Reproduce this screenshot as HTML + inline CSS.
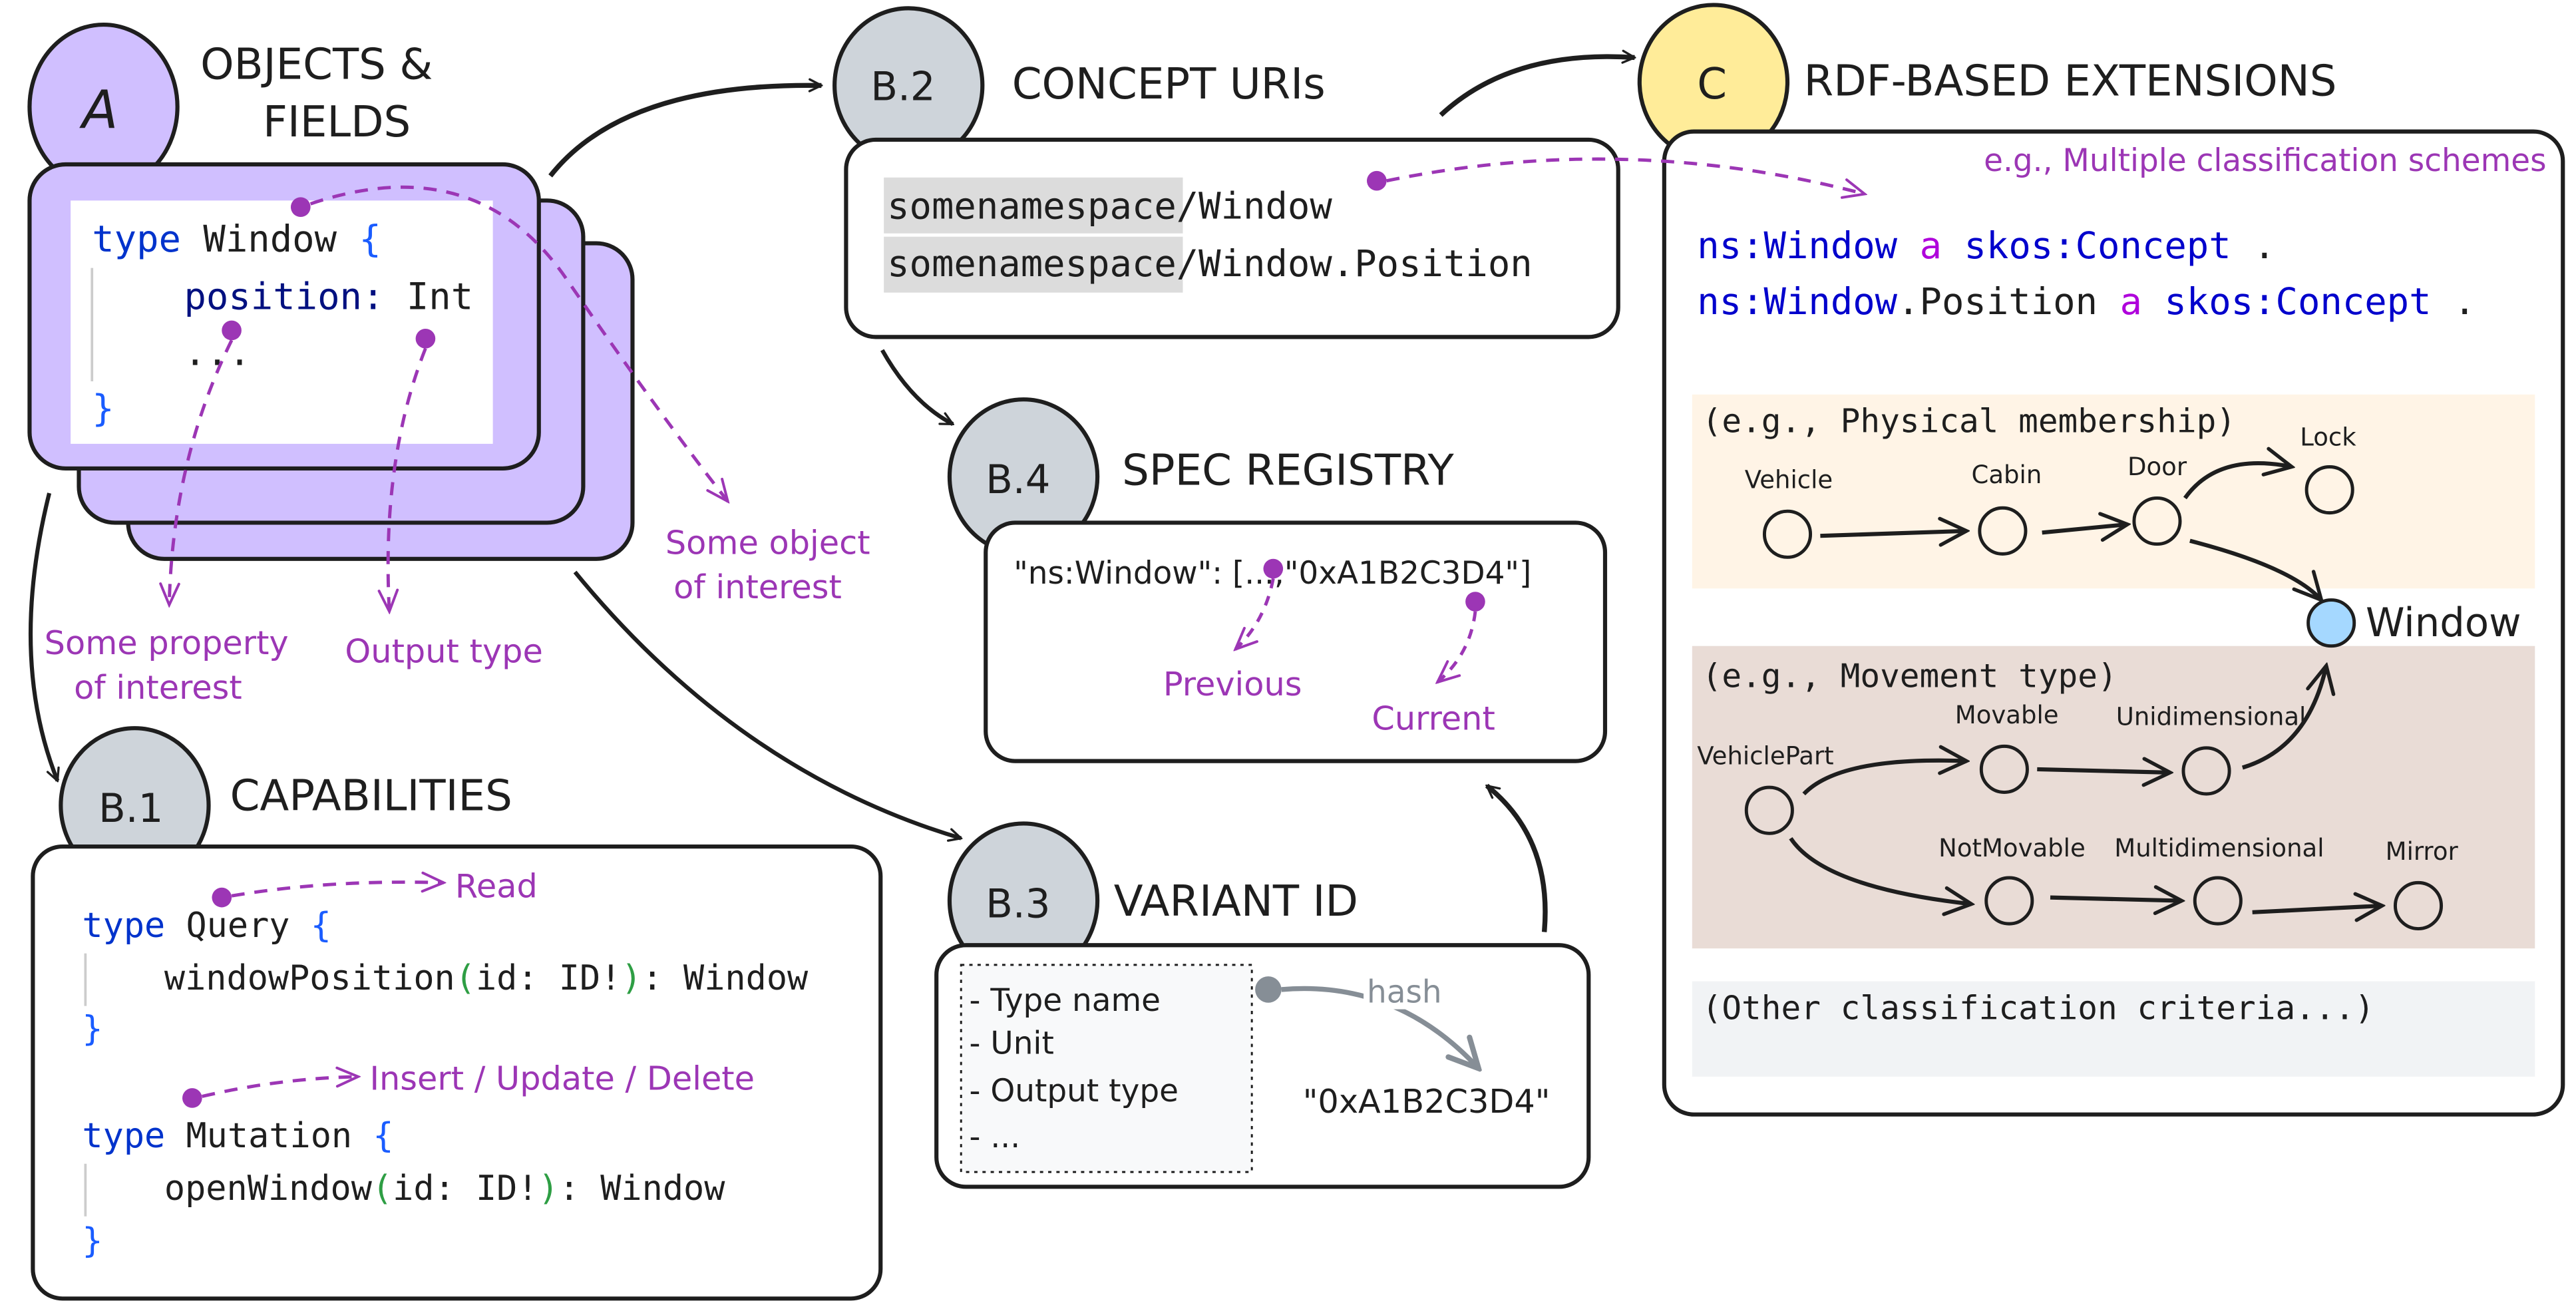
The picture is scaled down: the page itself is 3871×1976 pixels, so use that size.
<!DOCTYPE html>
<html><head><meta charset="utf-8"><style>
html,body{margin:0;padding:0;background:#fff;}
svg{display:block;}
.h{font-family:"DejaVu Sans","Liberation Sans",sans-serif;fill:#1e1e1e;}
.m{font-family:"DejaVu Sans Mono","Liberation Mono",monospace;fill:#1e1e1e;}
.p{font-family:"DejaVu Sans","Liberation Sans",sans-serif;fill:#9c36b5;}
.bl{fill:#1a5cff;}
</style></head><body>
<svg width="3871" height="1976" viewBox="0 0 1568 800" preserveAspectRatio="none" xmlns="http://www.w3.org/2000/svg">
<defs>
<marker id="ab" viewBox="0 0 20 20" refX="18" refY="10" markerWidth="9" markerHeight="9" orient="auto" markerUnits="userSpaceOnUse"><path d="M2 2 L18 10 L2 18" fill="none" stroke="#1e1e1e" stroke-width="3" stroke-linecap="round"/></marker>
<marker id="as" viewBox="0 0 20 20" refX="18" refY="10" markerWidth="20" markerHeight="20" orient="auto" markerUnits="userSpaceOnUse"><path d="M2 2 L18 10 L2 18" fill="none" stroke="#1e1e1e" stroke-width="2.2" stroke-linecap="round"/></marker>
<marker id="ap" viewBox="0 0 20 20" refX="18" refY="10" markerWidth="16" markerHeight="16" orient="auto" markerUnits="userSpaceOnUse"><path d="M2 3 L18 10 L2 17" fill="none" stroke="#9c36b5" stroke-width="2" stroke-linecap="round"/></marker>
<marker id="ag" viewBox="0 0 20 20" refX="18" refY="10" markerWidth="22" markerHeight="22" orient="auto" markerUnits="userSpaceOnUse"><path d="M2 2 L18 10 L2 18" fill="none" stroke="#868e96" stroke-width="3" stroke-linecap="round"/></marker>
</defs>

<!-- A -->
<ellipse cx="63" cy="65" rx="45" ry="50" fill="#d0bfff" stroke="#1e1e1e" stroke-width="2.5"/>
<text x="50" y="78" class="h" font-size="32" font-style="italic">A</text>
<text x="122" y="48" class="h" font-size="26">OBJECTS &amp;</text>
<text x="160" y="83" class="h" font-size="26">FIELDS</text>
<rect x="78" y="148" width="307" height="192" rx="22" fill="#d0bfff" stroke="#1e1e1e" stroke-width="2.5"/>
<rect x="48" y="122" width="307" height="196" rx="22" fill="#d0bfff" stroke="#1e1e1e" stroke-width="2.5"/>
<rect x="18" y="100" width="310" height="185" rx="22" fill="#d0bfff" stroke="#1e1e1e" stroke-width="2.5"/>
<rect x="43" y="122" width="257" height="148" fill="#fff"/>
<line x1="56" y1="163" x2="56" y2="232" stroke="#ccc" stroke-width="1.5"/>
<text x="56" y="153" class="m" font-size="22.5"><tspan style="fill:#0033cc">type</tspan> Window <tspan class="bl">{</tspan></text>
<text x="112" y="188" class="m" font-size="22.5"><tspan style="fill:#001080">position:</tspan> Int</text>
<text x="112" y="222" class="m" font-size="22.5">...</text>
<text x="56" y="256" class="m bl" font-size="22.5" style="fill:#1a5cff">}</text>
<circle cx="183" cy="126" r="6" fill="#9c36b5"/>
<circle cx="141" cy="201" r="6" fill="#9c36b5"/>
<circle cx="259" cy="206" r="6" fill="#9c36b5"/>
<path d="M189 124 Q290 90 345 170 T443 305" fill="none" stroke="#9c36b5" stroke-width="2" stroke-dasharray="8 6" marker-end="url(#ap)"/>
<path d="M141 207 Q105 280 103 368" fill="none" stroke="#9c36b5" stroke-width="2" stroke-dasharray="8 6" marker-end="url(#ap)"/>
<path d="M259 212 Q232 280 237 372" fill="none" stroke="#9c36b5" stroke-width="2" stroke-dasharray="8 6" marker-end="url(#ap)"/>
<text x="405" y="337" class="p" font-size="20">Some object</text>
<text x="410" y="364" class="p" font-size="20">of interest</text>
<text x="27" y="398" class="p" font-size="20">Some property</text>
<text x="45" y="425" class="p" font-size="20">of interest</text>
<text x="210" y="403" class="p" font-size="20">Output type</text>

<!-- black arrows -->
<path d="M335 107 Q380 50 500 52" fill="none" stroke="#1e1e1e" stroke-width="3" marker-end="url(#ab)"/>
<path d="M877 70 Q920 30 995 35" fill="none" stroke="#1e1e1e" stroke-width="3" marker-end="url(#ab)"/>
<path d="M30 300 Q5 400 35 475" fill="none" stroke="#1e1e1e" stroke-width="2.5" marker-end="url(#ab)"/>
<path d="M350 348 Q450 470 585 510" fill="none" stroke="#1e1e1e" stroke-width="2.5" marker-end="url(#ab)"/>
<path d="M537 213 Q555 245 580 258" fill="none" stroke="#1e1e1e" stroke-width="2.5" marker-end="url(#ab)"/>
<path d="M940 567 Q945 510 905 478" fill="none" stroke="#1e1e1e" stroke-width="3" marker-end="url(#ab)"/>

<!-- B.2 -->
<ellipse cx="553" cy="52" rx="45" ry="47" fill="#ced4da" stroke="#1e1e1e" stroke-width="2.5"/>
<text x="530" y="61" class="h" font-size="24">B.2</text>
<text x="616" y="60" class="h" font-size="26">CONCEPT URIs</text>
<rect x="515" y="85" width="470" height="120" rx="18" fill="#fff" stroke="#1e1e1e" stroke-width="2.5"/>
<rect x="538" y="108" width="182" height="34" fill="#dcdcdc"/>
<rect x="538" y="144" width="182" height="34" fill="#dcdcdc"/>
<text x="540" y="133" class="m" font-size="22.5">somenamespace/Window</text>
<text x="540" y="168" class="m" font-size="22.5">somenamespace/Window.Position</text>

<!-- C -->
<ellipse cx="1043" cy="50" rx="45" ry="47" fill="#ffec99" stroke="#1e1e1e" stroke-width="2.5"/>
<text x="1033" y="60" class="h" font-size="26">C</text>
<text x="1098" y="58" class="h" font-size="26">RDF-BASED EXTENSIONS</text>
<rect x="1013" y="80" width="547" height="598" rx="18" fill="#fff" stroke="#1e1e1e" stroke-width="2.5"/>
<circle cx="838" cy="110" r="6" fill="#9c36b5"/>
<path d="M844 110 Q990 80 1135 118" fill="none" stroke="#9c36b5" stroke-width="2" stroke-dasharray="8 6" marker-end="url(#ap)"/>
<text x="1550" y="104" class="p" font-size="19" text-anchor="end">e.g., Multiple classification schemes</text>
<text x="1033" y="157" class="m" font-size="22.5"><tspan style="fill:#0000cc">ns:Window</tspan> <tspan style="fill:#af00db">a</tspan> <tspan style="fill:#0000cc">skos:Concept</tspan> .</text>
<text x="1033" y="191" class="m" font-size="22.5"><tspan style="fill:#0000cc">ns:Window</tspan>.Position <tspan style="fill:#af00db">a</tspan> <tspan style="fill:#0000cc">skos:Concept</tspan> .</text>
<rect x="1030" y="240" width="513" height="118" fill="#fff4e6"/>
<rect x="1030" y="393" width="513" height="184" fill="#e9dcd6"/>
<rect x="1030" y="597" width="513" height="58" fill="#f1f3f5"/>
<text x="1036" y="263" class="m" font-size="20">(e.g., Physical membership)</text>
<text x="1036" y="418" class="m" font-size="20">(e.g., Movement type)</text>
<text x="1036" y="620" class="m" font-size="20">(Other classification criteria...)</text>
<g fill="none" stroke="#1e1e1e" stroke-width="2">
<circle cx="1088" cy="325" r="14"/><circle cx="1219" cy="323" r="14"/><circle cx="1313" cy="317" r="14"/><circle cx="1418" cy="298" r="14"/>
<circle cx="1077" cy="493" r="14"/><circle cx="1220" cy="468" r="14"/><circle cx="1343" cy="469" r="14"/>
<circle cx="1223" cy="548" r="14"/><circle cx="1350" cy="548" r="14"/><circle cx="1472" cy="551" r="14"/>
</g>
<circle cx="1419" cy="379" r="14" fill="#a5d8ff" stroke="#1e1e1e" stroke-width="2"/>
<g fill="none" stroke="#1e1e1e" stroke-width="2.5">
<path d="M1108 326 L1197 323" marker-end="url(#as)"/>
<path d="M1243 324 L1295 319" marker-end="url(#as)"/>
<path d="M1330 303 Q1350 275 1395 284" marker-end="url(#as)"/>
<path d="M1333 329 Q1395 345 1413 365" marker-end="url(#as)"/>
<path d="M1098 483 Q1120 460 1197 463" marker-end="url(#as)"/>
<path d="M1240 468 L1321 470" marker-end="url(#as)"/>
<path d="M1365 467 Q1405 455 1416 405" marker-end="url(#as)"/>
<path d="M1090 510 Q1110 540 1200 550" marker-end="url(#as)"/>
<path d="M1248 546 L1328 548" marker-end="url(#as)"/>
<path d="M1371 555 L1450 551" marker-end="url(#as)"/>
</g>
<g class="h" font-size="15">
<text x="1062" y="297">Vehicle</text><text x="1200" y="294">Cabin</text><text x="1295" y="289">Door</text><text x="1400" y="271">Lock</text>
<text x="1033" y="465">VehiclePart</text><text x="1190" y="440">Movable</text><text x="1288" y="441">Unidimensional</text>
<text x="1180" y="521">NotMovable</text><text x="1287" y="521">Multidimensional</text><text x="1452" y="523">Mirror</text>
</g>
<text x="1440" y="387" class="h" font-size="24">Window</text>

<!-- B.4 -->
<ellipse cx="623" cy="290" rx="45" ry="47" fill="#ced4da" stroke="#1e1e1e" stroke-width="2.5"/>
<text x="600" y="300" class="h" font-size="24">B.4</text>
<text x="683" y="295" class="h" font-size="26">SPEC REGISTRY</text>
<rect x="600" y="318" width="377" height="145" rx="18" fill="#fff" stroke="#1e1e1e" stroke-width="2.5"/>
<text x="617" y="355" class="h" font-size="19">"ns:Window": [...,"0xA1B2C3D4"]</text>
<circle cx="775" cy="346" r="6" fill="#9c36b5"/>
<circle cx="898" cy="366" r="6" fill="#9c36b5"/>
<path d="M775 352 Q770 378 752 395" fill="none" stroke="#9c36b5" stroke-width="2" stroke-dasharray="6 5" marker-end="url(#ap)"/>
<path d="M898 372 Q895 398 875 415" fill="none" stroke="#9c36b5" stroke-width="2" stroke-dasharray="6 5" marker-end="url(#ap)"/>
<text x="708" y="423" class="p" font-size="20">Previous</text>
<text x="835" y="444" class="p" font-size="20">Current</text>

<!-- B.1 -->
<ellipse cx="82" cy="490" rx="45" ry="47" fill="#ced4da" stroke="#1e1e1e" stroke-width="2.5"/>
<text x="60" y="500" class="h" font-size="24">B.1</text>
<text x="140" y="493" class="h" font-size="26">CAPABILITIES</text>
<rect x="20" y="515" width="516" height="275" rx="18" fill="#fff" stroke="#1e1e1e" stroke-width="2.5"/>
<line x1="52" y1="580" x2="52" y2="612" stroke="#ccc" stroke-width="1.5"/>
<line x1="52" y1="708" x2="52" y2="740" stroke="#ccc" stroke-width="1.5"/>
<text x="50" y="570" class="m" font-size="21"><tspan style="fill:#0033cc">type</tspan> Query <tspan class="bl">{</tspan></text>
<text x="100" y="602" class="m" font-size="21">windowPosition<tspan style="fill:#2e9e44">(</tspan>id: ID!<tspan style="fill:#2e9e44">)</tspan>: Window</text>
<text x="50" y="633" class="m" font-size="21" style="fill:#1a5cff">}</text>
<text x="50" y="698" class="m" font-size="21"><tspan style="fill:#0033cc">type</tspan> Mutation <tspan class="bl">{</tspan></text>
<text x="100" y="730" class="m" font-size="21">openWindow<tspan style="fill:#2e9e44">(</tspan>id: ID!<tspan style="fill:#2e9e44">)</tspan>: Window</text>
<text x="50" y="762" class="m" font-size="21" style="fill:#1a5cff">}</text>
<circle cx="135" cy="546" r="6" fill="#9c36b5"/>
<circle cx="117" cy="668" r="6" fill="#9c36b5"/>
<path d="M141 545 Q200 535 270 537" fill="none" stroke="#9c36b5" stroke-width="2" stroke-dasharray="8 6" marker-end="url(#ap)"/>
<path d="M123 667 Q170 656 218 655" fill="none" stroke="#9c36b5" stroke-width="2" stroke-dasharray="8 6" marker-end="url(#ap)"/>
<text x="277" y="546" class="p" font-size="20">Read</text>
<text x="225" y="663" class="p" font-size="20">Insert / Update / Delete</text>

<!-- B.3 -->
<ellipse cx="623" cy="548" rx="45" ry="47" fill="#ced4da" stroke="#1e1e1e" stroke-width="2.5"/>
<text x="600" y="558" class="h" font-size="24">B.3</text>
<text x="678" y="557" class="h" font-size="26">VARIANT ID</text>
<rect x="570" y="575" width="397" height="147" rx="18" fill="#fff" stroke="#1e1e1e" stroke-width="2.5"/>
<rect x="585" y="587" width="177" height="126" fill="#f8f9fa" stroke="#1e1e1e" stroke-width="1.2" stroke-dasharray="2 3"/>
<g class="h" font-size="19">
<text x="590" y="615">- Type name</text><text x="590" y="641">- Unit</text><text x="590" y="670">- Output type</text><text x="590" y="698">- ...</text>
</g>
<circle cx="772" cy="602" r="8" fill="#868e96"/>
<path d="M780 602 Q850 596 900 650" fill="none" stroke="#868e96" stroke-width="3" marker-end="url(#ag)"/>
<rect x="830" y="592" width="50" height="22" fill="#fff"/>
<text x="832" y="610" class="h" font-size="19" style="fill:#868e96">hash</text>
<text x="793" y="677" class="h" font-size="20">"0xA1B2C3D4"</text>
</svg>
</body></html>
